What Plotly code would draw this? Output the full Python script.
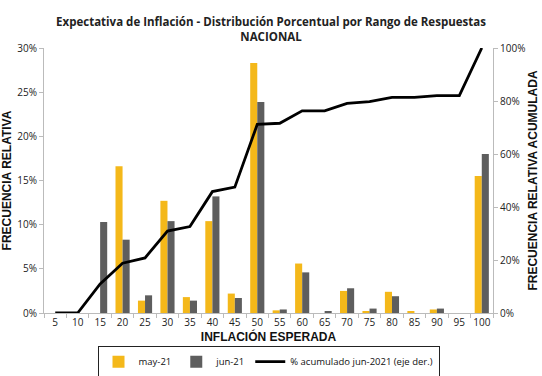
import plotly.graph_objects as go

categorias = ["5", "10", "15", "20", "25", "30", "35", "40", "45", "50",
              "55", "60", "65", "70", "75", "80", "85", "90", "95", "100"]
may_21 = [0, 0, 0, 16.6, 1.4, 12.7, 1.8, 10.4, 2.2, 28.3,
          0.3, 5.6, 0, 2.5, 0.2, 2.4, 0.2, 0.4, 0, 15.5]
jun_21 = [0, 0, 10.3, 8.3, 2.0, 10.4, 1.4, 13.2, 1.7, 23.9,
          0.4, 4.6, 0.2, 2.8, 0.5, 1.9, 0, 0.5, 0, 18.0]
acumulado_jun = [0, 0, 11.0, 18.8, 20.8, 30.9, 32.6, 45.8, 47.5, 71.2,
                 71.6, 76.3, 76.3, 79.1, 79.8, 81.4, 81.4, 82.0, 82.0, 100]

fig = go.Figure()
fig.add_trace(go.Bar(x=categorias, y=may_21, name="may-21",
                     marker=dict(color="#F4B81A", line=dict(width=0))))
fig.add_trace(go.Bar(x=categorias, y=jun_21, name="jun-21",
                     marker=dict(color="#5E5E5E", line=dict(width=0))))
fig.add_trace(go.Scatter(x=categorias, y=acumulado_jun, name="% acumulado jun-2021 (eje der.)",
                         mode="lines", line=dict(color="black", width=2.8), yaxis="y2"))

axis_font = dict(family="Open Sans", size=10, color="#222")
title_font = dict(family="Liberation Sans", size=12, color="#111")
fig.update_layout(
    width=542, height=376,
    margin=dict(l=44, r=49, t=48, b=63, autoexpand=False),
    paper_bgcolor="white", plot_bgcolor="white",
    barmode="group", bargap=0.37, bargroupgap=0,
    title=dict(text="<b>Expectativa de Inflación - Distribución Porcentual por Rango de Respuestas<br>NACIONAL</b>",
               x=0.5, xanchor="center", y=0.93, yanchor="middle",
               font=dict(family="Open Sans", size=11.5, color="#222")),
    xaxis=dict(type="category", showgrid=False, showline=True, linecolor="#bbb",
               ticks="outside", tickson="boundaries", ticklen=4, tickcolor="#bbb",
               tickfont=axis_font, tickangle=0, automargin=False,
               title=dict(text="<b>INFLACIÓN ESPERADA</b>", standoff=2, font=title_font)),
    yaxis=dict(range=[0, 30], tickvals=[0, 5, 10, 15, 20, 25, 30],
               ticktext=["0%", "5%", "10%", "15%", "20%", "25%", "30%"],
               showgrid=False, showline=True, linecolor="#bbb", ticks="outside",
               ticklen=4, tickcolor="#bbb", tickfont=axis_font, zeroline=False,
               automargin=False,
               title=dict(text="<b>FRECUENCIA RELATIVA</b>", standoff=4, font=title_font)),
    yaxis2=dict(range=[0, 100], overlaying="y", side="right",
                tickvals=[0, 20, 40, 60, 80, 100],
                ticktext=["0%", "20%", "40%", "60%", "80%", "100%"],
                showgrid=False, showline=True, linecolor="#bbb", ticks="outside",
                ticklen=4, tickcolor="#bbb", tickfont=axis_font, zeroline=False,
                automargin=False,
                title=dict(text="<b>FRECUENCIA RELATIVA ACUMULADA</b>", standoff=4,
                           font=title_font)),
    legend=dict(orientation="h", x=0.5, xanchor="center", y=-0.125, yanchor="top",
                bordercolor="#222", borderwidth=1, bgcolor="white",
                font=dict(family="Open Sans", size=9.5, color="#111"),
                itemwidth=30, tracegroupgap=0),
)

fig.write_html("out.html", config={"displayModeBar": False},
               post_script="document.body.style.margin='0';document.body.style.overflow='hidden';")
